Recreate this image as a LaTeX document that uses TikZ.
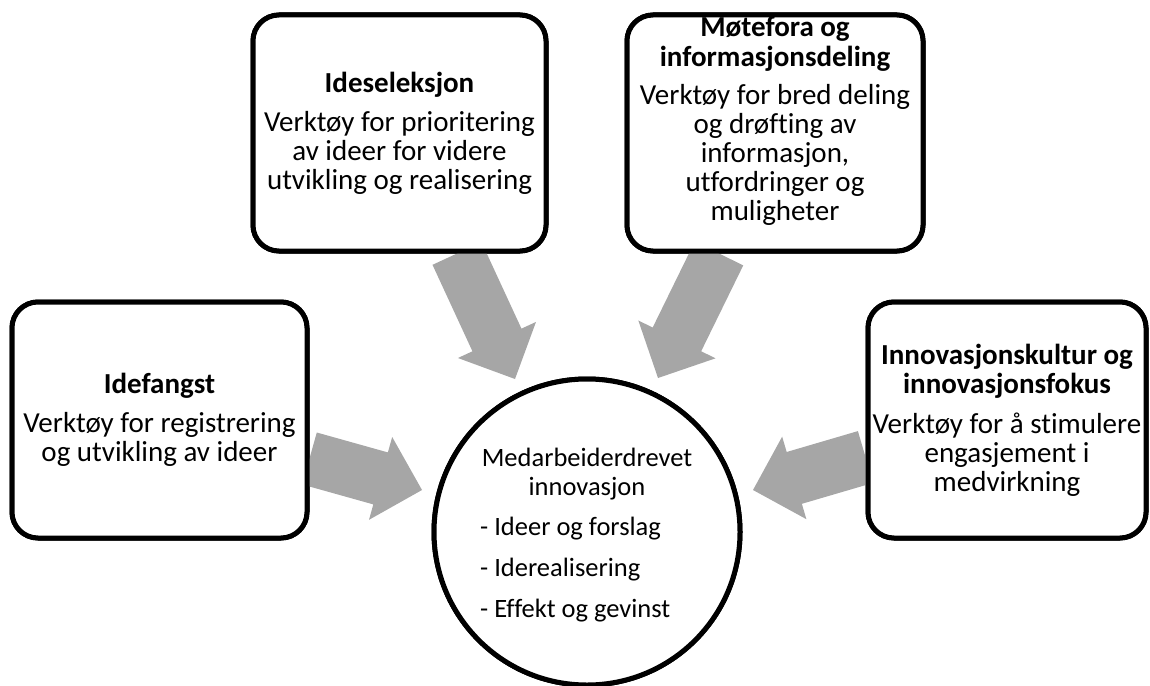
\documentclass[tikz,border=0pt]{standalone}
\usepackage{fontspec}
\setmainfont{Carlito}[Ligatures=CommonOff]
\usetikzlibrary{calc}

\definecolor{arrowfill}{RGB}{166,166,166}

% Broad block arrow from #1 (tail) to #2 (tip)
\newcommand\blockarrow[2]{%
  \coordinate (hb) at ($(#2)!43pt!(#1)$);
  \fill[arrowfill]
    ($(#1)!27pt!90:(#2)$) --
    ($(hb)!27pt!-90:(#1)$) --
    ($(hb)!43pt!-90:(#1)$) --
    (#2) --
    ($(hb)!43pt!90:(#1)$) --
    ($(hb)!27pt!90:(#1)$) --
    ($(#1)!27pt!-90:(#2)$) -- cycle;
}

\begin{document}
\begin{tikzpicture}[x=1pt, y=-1pt,
  toolbox/.style={draw=black, line width=5pt, rounded corners=26pt, fill=white,
    minimum height=236pt, inner sep=0pt, align=center,
    font=\fontsize{29}{29}\selectfont},
  bodytext/.style={inner sep=0pt, font=\fontsize{29}{29}\selectfont},
  hubtext/.style={inner sep=0pt, font=\fontsize{26.5}{29}\selectfont},
  hub/.style={draw=black, line width=5pt, circle, fill=white,
    minimum size=306pt, inner sep=0pt}
]
\useasboundingbox (0,0) rectangle (1150,685);

% the five shapes (placed first so the arrows can use their anchors)
\path
  node[toolbox, minimum width=295pt] (fang) at (159.5,420) {}
  node[toolbox, minimum width=293pt] (sel)  at (399.5,133) {}
  node[toolbox, minimum width=296pt] (mote) at (775,133) {}
  node[toolbox, minimum width=278pt] (kult) at (1007,420) {}
  node[hub] (core) at (587,532) {};

% arrow tails on the box borders, tips just outside the circle
\coordinate (s1) at ([yshift=-38.5pt]fang.east);
\coordinate (s2) at ([xshift=57.5pt]sel.south);
\coordinate (s3) at ([xshift=-56pt]mote.south);
\coordinate (s4) at ([yshift=-37pt]kult.west);
\coordinate (t1) at (422,490);
\coordinate (t2) at (515,379);
\coordinate (t3) at (658,378);
\coordinate (t4) at (753,490);

\blockarrow{s1}{t1}
\blockarrow{s2}{t2}
\blockarrow{s3}{t3}
\blockarrow{s4}{t4}

% redraw the shapes above the arrow tails, now with their text
\node[toolbox, minimum width=295pt] (fangbox) at (fang) {%
  \textbf{Idefangst}\\[10pt]
  Verktøy for registrering\\
  og utvikling av ideer};
\node[toolbox, minimum width=293pt] (selbox) at (sel) {%
  \textbf{Ideseleksjon}\\[10pt]
  Verktøy for prioritering\\
  av ideer for videre\\
  utvikling og realisering};
\node[toolbox, minimum width=296pt] (motebox) at (mote) {};
\node[bodytext, align=center] (motetext) at (775,121) {%
  \textbf{Møtefora og}\\[1pt]
  \textbf{informasjonsdeling}\\[9pt]
  Verktøy for bred deling\\
  og drøfting av\\
  informasjon,\\
  utfordringer og\\
  muligheter};
\node[toolbox, minimum width=278pt] (kultbox) at (kult) {%
  \textbf{Innovasjonskultur og}\\
  \textbf{innovasjonsfokus}\\[11pt]
  Verktøy for å stimulere\\
  engasjement i\\
  medvirkning};
\node[hub] (corebox) at (core) {};

% text inside the circle
\node[hubtext, align=center] (coretitle) at (587,474) {%
  Medarbeiderdrevet\\innovasjon};
\node[hubtext, align=left, anchor=west] (corelist) at (480,570) {%
  - Ideer og forslag\\[12pt]
  - Iderealisering\\[12pt]
  - Effekt og gevinst};
\end{tikzpicture}
\end{document}
